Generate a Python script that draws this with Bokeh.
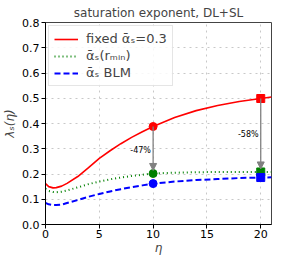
from bokeh.plotting import figure
from bokeh.models import Arrow, NormalHead, Label, Legend, LegendItem, FixedTicker, CustomJSTickFormatter
from bokeh.embed import file_html
from bokeh.resources import INLINE

eta = [0, 0.3, 0.7, 1.0, 1.5, 2, 3, 4, 5, 6, 7, 8, 9, 10, 12, 14, 16, 18, 20, 21]
lam_fixed = [0.162, 0.150, 0.145, 0.146, 0.152, 0.163, 0.190, 0.225, 0.262, 0.292, 0.320,
             0.345, 0.367, 0.388, 0.424, 0.451, 0.471, 0.487, 0.499, 0.505]
lam_rmin = [0.141, 0.133, 0.129, 0.128, 0.130, 0.135, 0.147, 0.160, 0.170, 0.179, 0.186,
            0.192, 0.197, 0.202, 0.205, 0.207, 0.208, 0.208, 0.208, 0.208]
lam_blm = [0.086, 0.080, 0.077, 0.077, 0.079, 0.085, 0.097, 0.110, 0.121, 0.131, 0.140,
           0.148, 0.155, 0.162, 0.170, 0.176, 0.180, 0.184, 0.186, 0.187]

mark_eta = [10, 20]
mark_fixed = [0.388, 0.499]
mark_rmin = [0.202, 0.208]
mark_blm = [0.162, 0.186]
pct_labels = ["-47%", "-58%"]
pct_y = [0.295, 0.355]

x_ticks = [0, 5, 10, 15, 20]
y_ticks = [0.0, 0.1, 0.2, 0.3, 0.4, 0.5, 0.6, 0.7, 0.8]

FONT = "DejaVu Sans"

p = figure(frame_width=226, frame_height=202, output_backend="svg", toolbar_location=None,
           x_range=(0, 21), y_range=(0, 0.8),
           title="saturation exponent, DL+SL",
           min_border_left=37, min_border_right=12, min_border_top=19, min_border_bottom=5)
p.title.align = "center"
p.title.text_font = FONT
p.title.text_font_size = "12px"
p.title.text_font_style = "normal"
p.title.standoff = 6

p.xaxis.ticker = FixedTicker(ticks=x_ticks)
p.yaxis.ticker = FixedTicker(ticks=y_ticks)
p.yaxis.formatter = CustomJSTickFormatter(code="return tick.toFixed(1);")
for ax in (p.xaxis, p.yaxis):
    ax.major_label_text_font = FONT
    ax.major_label_text_font_size = "11px"
    ax.major_label_text_color = "black"
    ax.axis_label_text_font = FONT
    ax.axis_label_text_font_size = "12px"
    ax.axis_label_text_font_style = "italic"
    ax.major_tick_out = 4
    ax.major_tick_in = 0
    ax.minor_tick_out = 0
    ax.minor_tick_in = 0
    ax.axis_line_color = "black"
    ax.major_tick_line_color = "black"
    ax.major_label_standoff = 2
    ax.axis_label_standoff = 2
p.xaxis.major_label_standoff = 1
p.xaxis.axis_label_standoff = 0
p.xaxis.axis_label = "η"
p.yaxis.axis_label = "λₛ(η)"

p.grid.grid_line_dash = "dotted"
p.grid.grid_line_color = "#c8c8c8"
p.grid.grid_line_width = 1
p.outline_line_color = "#444444"
p.outline_line_width = 1

r1 = p.line(eta, lam_fixed, line_color="red", line_width=1.6)
r2 = p.line(eta, lam_rmin, line_color="green", line_width=2, line_dash="1 3")
r3 = p.line(eta, lam_blm, line_color="blue", line_width=2, line_dash="6 3")

for i, (ex, yf, yr) in enumerate(zip(mark_eta, mark_fixed, mark_rmin)):
    p.add_layout(Arrow(end=NormalHead(size=7, fill_color="gray", line_color="gray"),
                       x_start=ex, y_start=yf, x_end=ex, y_end=yr + 0.012,
                       line_color="gray", line_width=1.3))
    p.add_layout(Label(x=ex - 0.2, y=pct_y[i], text=pct_labels[i], text_align="right",
                       text_baseline="middle", text_font=FONT, text_font_size="8px",
                       text_color="black"))

p.scatter(mark_eta[:1], mark_fixed[:1], marker="circle", size=8, color="red")
p.scatter(mark_eta[:1], mark_rmin[:1], marker="circle", size=8, color="green")
p.scatter(mark_eta[:1], mark_blm[:1], marker="circle", size=8, color="blue")
p.scatter(mark_eta[1:], mark_fixed[1:], marker="square", size=8, color="red")
p.scatter(mark_eta[1:], mark_rmin[1:], marker="square", size=8, color="green")
p.scatter(mark_eta[1:], mark_blm[1:], marker="square", size=8, color="blue")

legend = Legend(items=[LegendItem(label="fixed ᾱₛ=0.3", renderers=[r1]),
                       LegendItem(label="ᾱₛ(rₘᵢₙ)", renderers=[r2]),
                       LegendItem(label="ᾱₛ BLM", renderers=[r3])],
                location="top_left")
legend.label_text_font = FONT
legend.label_text_font_size = "13px"
legend.label_height = 14
legend.glyph_height = 14
legend.glyph_width = 24
legend.spacing = 2
legend.padding = 5
legend.margin = 3
legend.label_standoff = 8
legend.border_line_color = "#cccccc"
legend.border_line_width = 1
legend.background_fill_alpha = 0.85
p.add_layout(legend)

open("out.html", "w").write(file_html(p, INLINE))
